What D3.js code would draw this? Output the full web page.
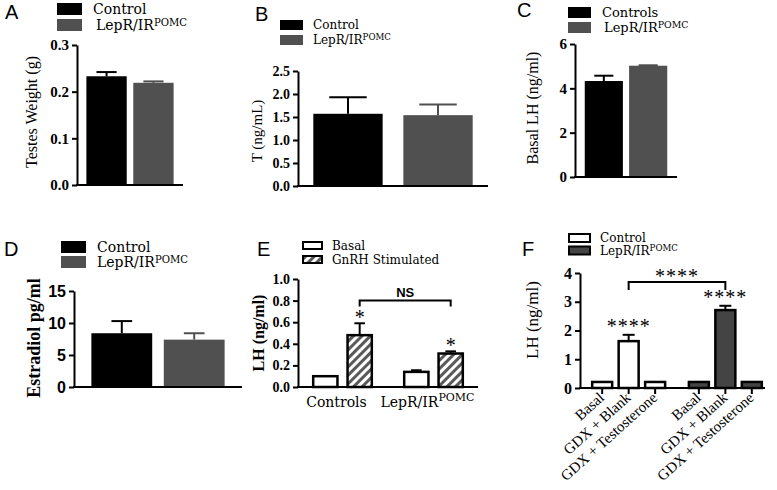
<!DOCTYPE html>
<html><head><meta charset="utf-8">
<script src="https://cdn.jsdelivr.net/npm/d3@7"></script>
<style>body{margin:0;background:#fff}</style>
</head><body><svg id="c" width="777" height="490"></svg>
<script>
// ---------- DATA ----------
const groupsAD = ["Control", "LepR/IR^POMC"];
const legendC = ["Controls", "LepR/IR^POMC"];
const testesWeight = [0.233, 0.219];
const testesWeightErr = [0.009, 0.003];
const testosterone = [1.57, 1.54];
const testosteroneErr = [0.36, 0.23];
const basalLH = [4.33, 5.02];
const basalLHErr = [0.24, 0.02];
const estradiol = [8.4, 7.4];
const estradiolErr = [1.9, 1.0];

const eGroups = ["Controls", "LepR/IR^POMC"];
const eSeries = ["Basal", "GnRH Stimulated"];
const eBasal = [0.10, 0.14];
const eBasalErr = [0.0, 0.015];
const eGnRH = [0.48, 0.31];
const eGnRHErr = [0.11, 0.02];
const eBracketLevel = 0.80;

const fGroups = ["Control", "LepR/IR^POMC"];
const fConditions = ["Basal", "GDX + Blank", "GDX + Testosterone"];
const fControl = [0.21, 1.63, 0.21];
const fControlErr = [0, 0.22, 0];
const fLepR = [0.21, 2.71, 0.21];
const fLepRErr = [0, 0.15, 0];
const fBracketLevel = 3.69;

const ticksA = [0, 0.1, 0.2, 0.3];
const ticksB = [0, 0.5, 1.0, 1.5, 2.0, 2.5];
const ticksC = [0, 2, 4, 6];
const ticksD = [0, 5, 10, 15];
const ticksE = [0, 0.2, 0.4, 0.6, 0.8, 1.0];
const ticksF = [0, 1, 2, 3, 4];

// ---------- HELPERS ----------
const svg = d3.select("#c");
const serif = "'Liberation Serif','Times New Roman',serif";
const serif2 = "'DejaVu Serif',serif";
const sans = "'Liberation Sans',Arial,sans-serif";

function rich(sel, str, supSize, supDy) {
  const parts = str.split("^");
  sel.append("tspan").text(parts[0]);
  if (parts[1]) sel.append("tspan").attr("dy", supDy).attr("font-size", supSize).text(parts[1]);
  return sel;
}

function yAxis(y, x0, ticks, fmt, font, size, weight) {
  const ax = svg.append("g").attr("transform", `translate(${x0},0)`)
    .call(d3.axisLeft(y).tickValues(ticks).tickFormat(fmt).tickSize(5).tickSizeOuter(0).tickPadding(3));
  ax.select(".domain").attr("stroke", "#000").attr("stroke-width", 2);
  ax.selectAll(".tick line").attr("stroke", "#000").attr("stroke-width", 2);
  ax.selectAll(".tick text").attr("font-family", font).attr("font-size", size)
    .attr("font-weight", weight).attr("fill", "#000");
  return ax;
}

function baseline(x0, x1, y0) {
  svg.append("line").attr("x1", x0 - 1).attr("x2", x1).attr("y1", y0).attr("y2", y0)
    .attr("stroke", "#000").attr("stroke-width", 2);
}

function yLabel(text, x, y, size, weight, font) {
  svg.append("text").attr("transform", `translate(${x},${y}) rotate(-90)`)
    .attr("text-anchor", "middle").attr("font-family", font).attr("font-size", size)
    .attr("font-weight", weight).attr("fill", "#000").text(text);
}

function panelLetter(t, x, y) {
  svg.append("text").attr("x", x).attr("y", y).attr("font-family", sans)
    .attr("font-size", 20).attr("fill", "#000").text(t);
}

function legend(items, x, y, w, h, gap, tx, fills, strokes, size) {
  items.forEach((it, i) => {
    svg.append("rect").attr("x", x).attr("y", y + i * gap).attr("width", w).attr("height", h)
      .attr("fill", fills[i]).attr("stroke", strokes[i]).attr("stroke-width", strokes[i] === "none" ? 0 : 2);
    const t = svg.append("text").attr("x", tx[i]).attr("y", y + i * gap + h / 2 + size * 0.36)
      .attr("font-family", serif2).attr("font-size", size).attr("fill", "#000");
    rich(t, it, size * 0.72, -size * 0.32);
  });
}

function errBar(cx, yBase, yTop, half, color, sw) {
  svg.append("line").attr("x1", cx).attr("x2", cx).attr("y1", yBase).attr("y2", yTop)
    .attr("stroke", color).attr("stroke-width", sw);
  svg.append("line").attr("x1", cx - half).attr("x2", cx + half).attr("y1", yTop).attr("y2", yTop)
    .attr("stroke", color).attr("stroke-width", sw);
}

const gray = "#505050";

function simplePanel(o) {
  const y = d3.scaleLinear().domain([0, o.max]).range([o.y0, o.yTop]);
  const x = d3.scaleBand().domain(groupsAD).range([o.x0, o.x1]).paddingInner(o.pi).paddingOuter(o.po);
  const colors = ["#000", gray];
  svg.append("g").selectAll("rect").data(o.values).join("rect")
    .attr("x", (d, i) => x(groupsAD[i])).attr("width", x.bandwidth())
    .attr("y", d => y(d)).attr("height", d => o.y0 - y(d)).attr("fill", (d, i) => colors[i]);
  o.values.forEach((v, i) => {
    const cx = x(groupsAD[i]) + x.bandwidth() / 2;
    errBar(cx, y(v), y(v + o.errs[i]), x.bandwidth() * o.cap, colors[i], 2);
  });
  yAxis(y, o.x0, o.ticks, o.fmt, o.tickFont, o.tickSize, "bold");
  baseline(o.x0, o.x1, o.y0);
}

// ---------- PANEL A ----------
panelLetter("A", 5, 19);
legend(groupsAD, 57, 3, 25, 12, 16, [93, 96], ["#000", gray], ["none", "none"], 14);
simplePanel({ x0: 77, x1: 183, y0: 185, yTop: 45, max: 0.3, values: testesWeight, errs: testesWeightErr,
  pi: 0.14, po: 0.2, cap: 0.25, ticks: ticksA, fmt: d3.format(".1f"), tickFont: serif, tickSize: 15 });
yLabel("Testes Weight (g)", 37, 112, 16, "normal", serif);

// ---------- PANEL B ----------
panelLetter("B", 255, 21);
legend(groupsAD, 280, 20, 23, 10, 15, [313, 313], ["#000", gray], ["none", "none"], 12);
simplePanel({ x0: 298, x1: 488, y0: 186, yTop: 71, max: 2.5, values: testosterone, errs: testosteroneErr,
  pi: 0.23, po: 0.17, cap: 0.27, ticks: ticksB, fmt: d3.format(".1f"), tickFont: serif, tickSize: 14 });
yLabel("T (ng/mL)", 262, 131, 15, "normal", serif);

// ---------- PANEL C ----------
panelLetter("C", 517, 17);
legend(legendC, 568, 7, 23, 11, 15, [602, 604], ["#000", gray], ["none", "none"], 13);
simplePanel({ x0: 575, x1: 677, y0: 177, yTop: 44, max: 6, values: basalLH, errs: basalLHErr,
  pi: 0.14, po: 0.22, cap: 0.25, ticks: ticksC, fmt: d3.format("d"), tickFont: serif, tickSize: 15 });
yLabel("Basal LH (ng/ml)", 538, 108, 16, "normal", serif);

// ---------- PANEL D ----------
panelLetter("D", 4, 256);
legend(groupsAD, 61, 241, 25, 12, 15, [97, 97], ["#000", gray], ["none", "none"], 14);
simplePanel({ x0: 74, x1: 242, y0: 387, yTop: 291, max: 15, values: estradiol, errs: estradiolErr,
  pi: 0.16, po: 0.24, cap: 0.17, ticks: ticksD, fmt: d3.format("d"), tickFont: sans, tickSize: 16 });
yLabel("Estradiol pg/ml", 40, 338, 18, "bold", serif);

// ---------- PANEL E ----------
panelLetter("E", 257, 256);
const defs = svg.append("defs");
const pat = defs.append("pattern").attr("id", "hatch").attr("patternUnits", "userSpaceOnUse")
  .attr("width", 6).attr("height", 6).attr("patternTransform", "rotate(45)");
pat.append("rect").attr("width", 6).attr("height", 6).attr("fill", "#fff");
pat.append("rect").attr("width", 3).attr("height", 6).attr("fill", "#5a5a5a");

{
  const x0 = 298, x1 = 478, y0 = 387, yTop = 279;
  const y = d3.scaleLinear().domain([0, 1]).range([y0, yTop]);
  const xo = d3.scaleBand().domain(eGroups).range([x0, x1]).paddingInner(0.356).paddingOuter(0.167);
  const xi = d3.scaleBand().domain(eSeries).range([0, xo.bandwidth()]).paddingInner(0.294).paddingOuter(0);
  const series = [{ k: eSeries[0], v: eBasal, e: eBasalErr, fill: "#fff" },
                  { k: eSeries[1], v: eGnRH, e: eGnRHErr, fill: "url(#hatch)" }];
  series.forEach(s => {
    eGroups.forEach((g, i) => {
      const bx = xo(g) + xi(s.k), bw = xi.bandwidth(), cx = bx + bw / 2;
      if (s.e[i] > 0) errBar(cx, y(s.v[i]), y(s.v[i] + s.e[i]), bw * 0.22, "#000", 2);
      svg.append("rect").attr("x", bx).attr("width", bw).attr("y", y(s.v[i])).attr("height", y0 - y(s.v[i]))
        .attr("fill", s.fill).attr("stroke", "#000").attr("stroke-width", 2.5);
    });
  });
  eGroups.forEach((g, i) => {
    const cx = xo(g) + xi(eSeries[1]) + xi.bandwidth() / 2;
    svg.append("text").attr("x", cx).attr("y", y(eGnRH[i] + eGnRHErr[i]) + 1).attr("text-anchor", "middle")
      .attr("font-family", serif).attr("font-size", 20).attr("fill", "#000").text("*");
  });
  const bx1 = xo(eGroups[0]) + xi(eSeries[1]) + xi.bandwidth() / 2;
  const bx2 = xo(eGroups[1]) + xi(eSeries[1]) + xi.bandwidth() / 2;
  const by = y(eBracketLevel);
  svg.append("path").attr("d", `M${bx1},${by + 6}V${by}H${bx2}V${by + 6}`).attr("fill", "none")
    .attr("stroke", "#000").attr("stroke-width", 2);
  svg.append("text").attr("x", (bx1 + bx2) / 2).attr("y", by - 4).attr("text-anchor", "middle")
    .attr("font-family", sans).attr("font-weight", "bold").attr("font-size", 13).attr("fill", "#000").text("NS");
  yAxis(y, x0, ticksE, d3.format(".1f"), serif, 14, "bold");
  baseline(x0, x1, y0);
  eGroups.forEach(g => {
    const t = svg.append("text").attr("x", xo(g) + xo.bandwidth() / 2 - 6).attr("y", y0 + 20)
      .attr("text-anchor", "middle").attr("font-family", serif2).attr("font-size", 14).attr("fill", "#000");
    rich(t, g, 11, -6);
  });
  yLabel("LH (ng/ml)", 264, 333, 16, "bold", serif);
  legend(eSeries, 303, 242, 19, 7, 14, [332, 332], ["#fff", "url(#hatch)"], ["#000", "#000"], 12);
}

// ---------- PANEL F ----------
panelLetter("F", 522, 256);
{
  const x0 = 580, x1 = 765, y0 = 388, yTop = 273;
  const y = d3.scaleLinear().domain([0, 4]).range([y0, yTop]);
  const xo = d3.scaleBand().domain(fGroups).range([589, x1]).paddingInner(0.18).paddingOuter(0);
  const xi = d3.scaleBand().domain(fConditions).range([0, xo.bandwidth()]).paddingInner(0.245).paddingOuter(0.12);
  const groups = [{ g: fGroups[0], v: fControl, e: fControlErr, fill: "#fff" },
                  { g: fGroups[1], v: fLepR, e: fLepRErr, fill: "#444" }];
  groups.forEach(G => {
    fConditions.forEach((c, i) => {
      const bx = xo(G.g) + xi(c), bw = xi.bandwidth(), cx = bx + bw / 2;
      if (G.e[i] > 0) errBar(cx, y(G.v[i]), y(G.v[i] + G.e[i]), bw * 0.3, "#000", 2);
      svg.append("rect").attr("x", bx).attr("width", bw).attr("y", y(G.v[i])).attr("height", y0 - y(G.v[i]))
        .attr("fill", G.fill).attr("stroke", "#000").attr("stroke-width", 2.5);
      svg.append("line").attr("x1", cx).attr("x2", cx).attr("y1", y0).attr("y2", y0 + 6)
        .attr("stroke", "#000").attr("stroke-width", 2);
      const lx = cx + 3, ly = y0 + 11;
      svg.append("text").attr("x", lx).attr("y", ly)
        .attr("transform", `rotate(-42 ${lx} ${ly})`)
        .attr("text-anchor", "end").attr("font-family", serif).attr("font-size", 15).attr("fill", "#000").text(c);
      if (G.e[i] > 0) {
        svg.append("text").attr("x", cx).attr("y", y(G.v[i] + G.e[i]) - 2).attr("text-anchor", "middle")
          .attr("font-family", serif).attr("font-size", 20).attr("letter-spacing", 1).attr("fill", "#000").text("****");
      }
    });
  });
  const k = fConditions[1];
  const bx1 = xo(fGroups[0]) + xi(k) + xi.bandwidth() / 2;
  const bx2 = xo(fGroups[1]) + xi(k) + xi.bandwidth() / 2;
  const by = y(fBracketLevel);
  svg.append("path").attr("d", `M${bx1},${by + 8}V${by}H${bx2}V${by + 8}`).attr("fill", "none")
    .attr("stroke", "#000").attr("stroke-width", 2);
  svg.append("text").attr("x", (bx1 + bx2) / 2).attr("y", by + 1).attr("text-anchor", "middle")
    .attr("font-family", serif).attr("font-size", 20).attr("letter-spacing", 1).attr("fill", "#000").text("****");
  yAxis(y, x0, ticksF, d3.format("d"), serif, 16, "bold");
  baseline(x0, x1, y0);
  yLabel("LH (ng/ml)", 538, 320, 17, "normal", serif);
  legend(fGroups, 569, 234, 21, 8, 12.5, [600, 600], ["#fff", "#444"], ["#000", "#000"], 12);
}
</script></body></html>
